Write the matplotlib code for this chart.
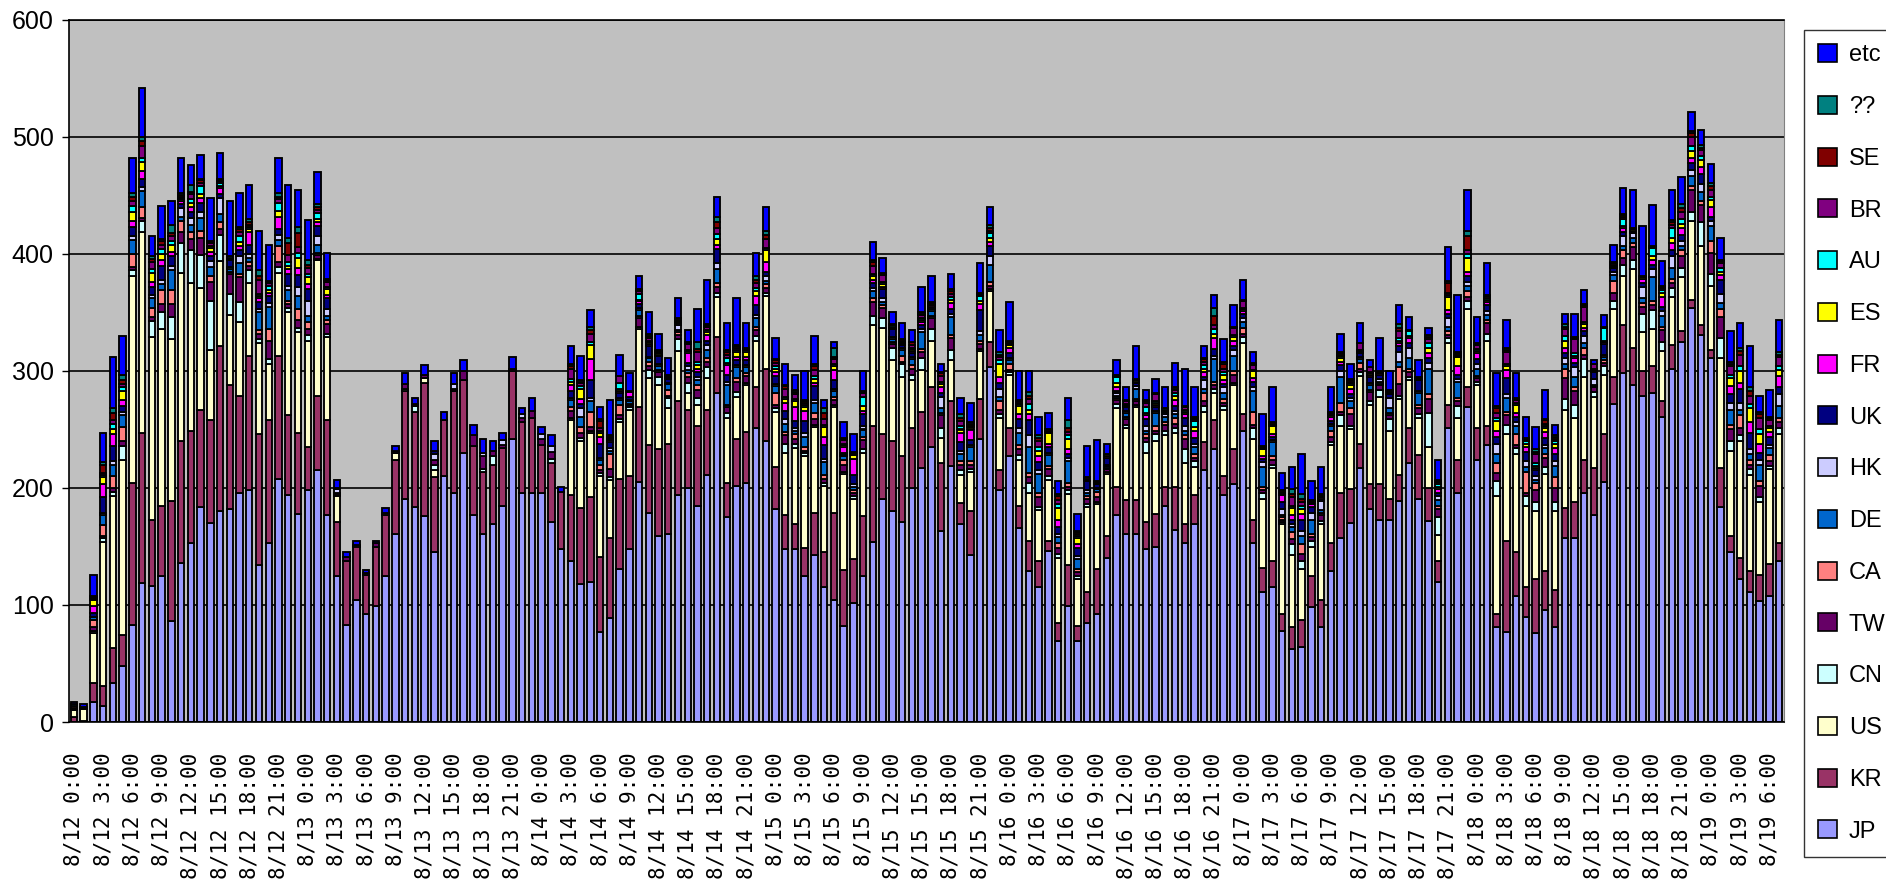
import numpy as np
import matplotlib
matplotlib.use("Agg")
import matplotlib.pyplot as plt

# hourly access counts by country, 8/12 0:00 .. 8/19 7:00 (176 hours)
jp = [0, 0, 17, 14, 33, 48, 83, 119, 116, 125,
      86, 136, 153, 184, 170, 180, 182, 196, 198, 134,
      153, 208, 194, 178, 198, 215, 177, 125, 83, 104,
      92, 99, 125, 161, 191, 184, 176, 145, 210, 196,
      230, 177, 161, 169, 185, 242, 196, 196, 196, 171,
      148, 138, 118, 120, 77, 89, 131, 148, 205, 179,
      159, 161, 194, 200, 185, 211, 281, 175, 202, 204,
      251, 240, 182, 148, 148, 125, 143, 115, 104, 82,
      102, 125, 154, 191, 180, 171, 200, 217, 235, 163,
      219, 169, 143, 242, 303, 198, 227, 166, 129, 115,
      146, 69, 99, 69, 85, 92, 140, 177, 161, 161,
      148, 150, 185, 164, 153, 169, 215, 233, 194, 203,
      249, 153, 111, 115, 78, 62, 64, 98, 81, 129,
      157, 170, 217, 182, 173, 173, 189, 221, 191, 172,
      120, 251, 196, 269, 224, 237, 81, 77, 108, 90,
      76, 96, 81, 157, 157, 196, 177, 205, 272, 298,
      288, 279, 281, 261, 302, 325, 354, 331, 311, 184,
      145, 122, 111, 103, 108, 138]
kr = [4, 1, 16, 17, 30, 26, 121, 128, 57, 60,
      103, 104, 96, 83, 88, 141, 106, 83, 115, 112,
      105, 105, 68, 69, 37, 64, 81, 46, 55, 46,
      34, 51, 52, 63, 92, 81, 114, 64, 48, 87,
      62, 59, 53, 51, 49, 58, 60, 64, 41, 50,
      49, 56, 65, 72, 64, 68, 77, 62, 64, 58,
      74, 77, 80, 67, 68, 56, 48, 29, 40, 44,
      35, 62, 36, 29, 21, 24, 36, 30, 75, 48,
      37, 51, 99, 55, 60, 56, 51, 48, 51, 58,
      55, 18, 37, 34, 22, 17, 24, 19, 26, 23,
      9, 16, 35, 13, 26, 39, 19, 24, 29, 29,
      23, 28, 16, 37, 16, 25, 24, 25, 16, 30,
      14, 20, 21, 23, 14, 19, 23, 27, 23, 24,
      39, 29, 21, 21, 30, 18, 22, 30, 37, 28,
      18, 20, 28, 17, 27, 16, 11, 78, 37, 25,
      46, 33, 32, 26, 31, 28, 40, 41, 23, 41,
      32, 21, 23, 13, 20, 9, 7, 8, 7, 33,
      14, 18, 18, 23, 27, 15]
us = [6, 10, 43, 123, 130, 150, 177, 172, 156, 151,
      138, 144, 126, 104, 60, 73, 60, 63, 62, 78,
      48, 71, 88, 86, 91, 116, 71, 22, 0, 0,
      0, 0, 0, 6, 0, 0, 4, 6, 0, 0,
      0, 0, 0, 0, 0, 0, 0, 0, 0, 0,
      0, 64, 57, 55, 69, 50, 48, 57, 67, 57,
      55, 30, 43, 14, 18, 27, 34, 56, 36, 40,
      40, 62, 47, 53, 65, 78, 73, 57, 90, 82,
      52, 54, 86, 91, 69, 68, 41, 36, 40, 22,
      35, 24, 34, 41, 43, 45, 46, 39, 41, 43,
      52, 55, 61, 40, 73, 55, 53, 67, 61, 79,
      59, 62, 44, 46, 52, 24, 26, 23, 57, 55,
      61, 69, 59, 79, 77, 62, 44, 25, 65, 84,
      57, 51, 58, 68, 75, 58, 65, 41, 32, 35,
      22, 53, 36, 67, 37, 73, 101, 91, 84, 70,
      58, 83, 67, 84, 72, 71, 61, 51, 58, 42,
      67, 33, 32, 43, 41, 46, 67, 68, 55, 94,
      73, 100, 82, 62, 81, 93]
cn = [1, 0, 2, 3, 4, 12, 5, 9, 14, 14,
      19, 25, 28, 28, 42, 22, 18, 17, 11, 3,
      4, 5, 4, 4, 5, 1, 3, 1, 0, 0,
      0, 0, 0, 0, 2, 5, 0, 5, 0, 0,
      0, 0, 2, 7, 0, 0, 0, 0, 0, 4,
      0, 2, 3, 2, 3, 2, 3, 2, 2, 7,
      7, 9, 10, 9, 6, 9, 4, 4, 4, 2,
      4, 3, 3, 8, 4, 3, 2, 2, 2, 2,
      2, 3, 8, 8, 11, 11, 5, 10, 10, 8,
      9, 4, 2, 2, 2, 3, 2, 4, 8, 3,
      3, 4, 3, 3, 2, 2, 2, 4, 3, 2,
      9, 6, 4, 4, 12, 5, 5, 4, 3, 2,
      5, 9, 5, 3, 2, 9, 7, 5, 3, 2,
      9, 3, 3, 3, 6, 10, 3, 3, 3, 29,
      15, 4, 10, 7, 3, 6, 13, 8, 5, 8,
      8, 6, 8, 9, 11, 15, 4, 7, 7, 10,
      8, 16, 16, 8, 8, 8, 8, 20, 10, 17,
      8, 5, 5, 4, 3, 5]
tw = [1, 1, 3, 2, 3, 4, 3, 3, 3, 7,
      11, 10, 10, 15, 16, 5, 17, 21, 4, 5,
      16, 4, 3, 7, 5, 3, 8, 2, 3, 1,
      1, 3, 2, 2, 4, 2, 3, 4, 0, 2,
      8, 9, 11, 5, 3, 2, 4, 6, 5, 6,
      0, 6, 4, 3, 2, 7, 3, 2, 7, 3,
      4, 2, 4, 5, 7, 5, 5, 5, 9, 6,
      5, 4, 3, 7, 4, 2, 5, 4, 4, 6,
      3, 8, 12, 9, 3, 2, 5, 5, 9, 11,
      10, 5, 4, 4, 3, 4, 2, 5, 5, 8,
      6, 5, 3, 3, 5, 4, 2, 3, 5, 3,
      4, 3, 5, 4, 9, 3, 4, 3, 3, 7,
      3, 3, 2, 4, 2, 4, 6, 3, 5, 5,
      3, 10, 3, 8, 4, 3, 10, 4, 5, 12,
      7, 3, 4, 3, 3, 9, 7, 8, 3, 3,
      10, 8, 12, 18, 12, 4, 4, 3, 7, 6,
      11, 6, 4, 10, 4, 10, 19, 15, 18, 18,
      10, 6, 4, 10, 4, 5]
ca = [2, 0, 6, 9, 10, 12, 11, 9, 8, 12,
      12, 9, 6, 6, 5, 6, 2, 3, 3, 3,
      10, 14, 3, 9, 6, 2, 4, 0, 0, 0,
      0, 0, 0, 0, 0, 0, 0, 0, 0, 0,
      0, 0, 0, 0, 0, 0, 0, 0, 0, 0,
      0, 3, 5, 13, 5, 13, 9, 1, 2, 4,
      2, 5, 2, 3, 4, 3, 3, 2, 3, 2,
      3, 3, 10, 3, 4, 3, 5, 3, 3, 4,
      2, 3, 3, 2, 2, 5, 3, 3, 2, 2,
      3, 3, 3, 3, 3, 7, 5, 4, 4, 4,
      3, 4, 3, 3, 2, 5, 1, 2, 2, 2,
      3, 4, 2, 5, 3, 3, 7, 3, 3, 3,
      5, 11, 3, 3, 2, 6, 8, 3, 2, 5,
      8, 5, 5, 2, 1, 2, 14, 3, 3, 4,
      3, 3, 3, 5, 2, 3, 8, 3, 9, 18,
      6, 3, 9, 8, 3, 6, 1, 2, 10, 6,
      3, 3, 4, 3, 4, 5, 3, 3, 10, 7,
      4, 11, 4, 4, 5, 4]
de = [1, 0, 3, 9, 10, 10, 12, 14, 8, 5,
      17, 4, 6, 11, 8, 7, 2, 9, 4, 15,
      19, 5, 9, 11, 5, 7, 3, 0, 0, 0,
      0, 0, 0, 0, 0, 0, 0, 0, 0, 0,
      0, 0, 0, 0, 0, 0, 0, 0, 0, 0,
      0, 6, 9, 9, 4, 3, 4, 2, 5, 3,
      3, 5, 2, 3, 4, 7, 12, 17, 9, 5,
      7, 3, 6, 7, 3, 9, 9, 11, 5, 3,
      3, 6, 6, 3, 2, 5, 5, 14, 4, 4,
      15, 6, 12, 5, 15, 4, 3, 10, 22, 16,
      9, 5, 19, 8, 3, 2, 2, 2, 3, 9,
      3, 11, 5, 3, 4, 6, 4, 19, 5, 13,
      5, 18, 17, 12, 2, 5, 7, 12, 2, 4,
      22, 6, 3, 4, 2, 4, 5, 9, 10, 22,
      5, 4, 14, 5, 6, 4, 8, 12, 7, 4,
      3, 5, 10, 4, 9, 4, 1, 3, 5, 4,
      5, 4, 20, 9, 9, 4, 9, 8, 13, 5,
      13, 5, 5, 14, 6, 10]
hk = [0, 0, 0, 2, 3, 3, 3, 3, 3, 4,
      4, 7, 6, 5, 5, 14, 2, 6, 3, 3,
      3, 4, 4, 8, 13, 7, 6, 3, 0, 0,
      0, 0, 0, 0, 0, 0, 0, 5, 0, 4,
      0, 0, 3, 0, 4, 0, 3, 0, 4, 5,
      0, 2, 7, 3, 2, 2, 2, 1, 2, 1,
      2, 1, 4, 3, 3, 4, 5, 3, 2, 2,
      3, 4, 2, 4, 2, 3, 2, 3, 2, 1,
      2, 3, 3, 3, 2, 2, 2, 3, 2, 10,
      3, 3, 2, 3, 7, 7, 2, 4, 10, 3,
      2, 3, 3, 3, 2, 1, 1, 2, 2, 2,
      4, 2, 2, 3, 4, 3, 7, 3, 5, 5,
      3, 3, 4, 2, 5, 2, 4, 6, 8, 2,
      5, 3, 2, 2, 2, 9, 8, 9, 2, 5,
      3, 7, 2, 3, 4, 3, 9, 3, 3, 5,
      3, 3, 4, 5, 8, 6, 5, 2, 3, 8,
      4, 10, 7, 4, 10, 4, 5, 7, 4, 8,
      6, 6, 4, 4, 3, 10]
uk = [0, 1, 3, 13, 13, 5, 8, 7, 7, 12,
      8, 4, 5, 8, 4, 3, 6, 5, 8, 6,
      6, 5, 10, 10, 10, 9, 9, 1, 0, 0,
      0, 0, 0, 0, 0, 0, 0, 3, 0, 0,
      0, 0, 0, 0, 0, 0, 0, 0, 0, 0,
      0, 6, 4, 15, 12, 5, 4, 3, 3, 9,
      7, 3, 2, 3, 4, 4, 12, 6, 4, 4,
      8, 4, 7, 7, 6, 10, 12, 12, 7, 2,
      8, 10, 4, 8, 7, 2, 3, 3, 2, 3,
      4, 7, 4, 18, 9, 5, 4, 8, 13, 7,
      5, 6, 3, 7, 8, 3, 6, 2, 3, 3,
      6, 3, 2, 4, 7, 5, 3, 6, 3, 3,
      4, 5, 3, 3, 6, 4, 10, 5, 2, 2,
      5, 3, 3, 5, 4, 3, 5, 4, 9, 4,
      3, 4, 4, 5, 4, 5, 6, 14, 5, 8,
      5, 6, 6, 4, 4, 4, 6, 9, 3, 4,
      1, 3, 4, 4, 5, 5, 6, 8, 4, 12,
      7, 12, 14, 6, 7, 6]
fr = [0, 0, 6, 11, 10, 5, 5, 7, 4, 5,
      4, 2, 4, 4, 4, 5, 1, 4, 11, 3,
      3, 11, 4, 6, 4, 3, 3, 0, 0, 0,
      0, 0, 0, 0, 0, 0, 0, 0, 0, 0,
      0, 0, 0, 0, 0, 0, 0, 0, 0, 0,
      0, 5, 4, 18, 6, 2, 2, 4, 3, 2,
      1, 1, 1, 8, 3, 5, 4, 8, 3, 3,
      8, 8, 3, 7, 12, 9, 3, 7, 9, 5,
      14, 3, 3, 2, 1, 1, 2, 3, 1, 5,
      5, 8, 9, 5, 3, 5, 5, 4, 5, 5,
      3, 6, 4, 3, 1, 1, 1, 3, 1, 1,
      3, 2, 1, 5, 3, 6, 4, 9, 3, 5,
      2, 3, 2, 2, 6, 4, 5, 2, 1, 4,
      3, 5, 1, 2, 1, 1, 3, 4, 1, 4,
      3, 3, 7, 4, 5, 3, 5, 7, 3, 4,
      2, 5, 5, 5, 4, 3, 1, 2, 1, 3,
      1, 4, 4, 8, 6, 6, 4, 6, 8, 4,
      7, 5, 9, 8, 4, 10]
es = [0, 0, 5, 6, 4, 8, 8, 8, 8, 5,
      6, 2, 4, 3, 3, 2, 1, 3, 2, 2,
      2, 5, 3, 9, 6, 3, 5, 0, 0, 0,
      0, 0, 0, 0, 0, 0, 0, 0, 0, 0,
      0, 0, 0, 0, 0, 0, 0, 0, 0, 0,
      0, 3, 9, 12, 3, 1, 2, 0, 1, 2,
      1, 1, 1, 2, 3, 2, 5, 2, 4, 4,
      4, 10, 3, 3, 5, 3, 3, 8, 3, 2,
      3, 4, 3, 2, 1, 1, 2, 2, 1, 3,
      3, 3, 2, 3, 4, 11, 2, 7, 4, 5,
      9, 10, 9, 5, 1, 1, 2, 4, 1, 1,
      2, 2, 1, 4, 2, 3, 3, 4, 5, 3,
      2, 6, 6, 7, 1, 6, 4, 1, 1, 1,
      3, 3, 1, 1, 1, 1, 2, 2, 1, 5,
      2, 11, 8, 12, 2, 2, 8, 3, 7, 3,
      2, 3, 4, 6, 2, 3, 1, 1, 1, 2,
      1, 1, 3, 4, 5, 4, 6, 6, 6, 3,
      7, 10, 12, 8, 3, 5]
au = [0, 0, 1, 2, 5, 3, 5, 3, 3, 4,
      3, 1, 3, 7, 2, 3, 1, 5, 2, 2,
      4, 7, 3, 4, 3, 5, 2, 0, 0, 0,
      0, 0, 0, 0, 0, 0, 0, 0, 0, 0,
      0, 0, 0, 0, 0, 0, 0, 0, 0, 0,
      0, 2, 2, 3, 2, 1, 5, 0, 5, 1,
      1, 1, 1, 1, 3, 2, 4, 4, 2, 2,
      3, 2, 2, 2, 2, 2, 3, 2, 2, 1,
      1, 8, 2, 2, 1, 1, 1, 1, 1, 2,
      2, 3, 1, 4, 4, 3, 1, 2, 5, 3,
      1, 3, 3, 2, 0, 0, 0, 5, 1, 0,
      5, 1, 1, 2, 2, 5, 3, 4, 2, 2,
      1, 1, 1, 1, 1, 2, 3, 1, 1, 1,
      2, 2, 1, 1, 1, 1, 2, 4, 1, 4,
      2, 2, 1, 3, 2, 1, 3, 2, 2, 2,
      2, 2, 2, 4, 2, 2, 1, 11, 1, 6,
      1, 1, 7, 2, 8, 4, 4, 4, 3, 3,
      3, 4, 4, 4, 2, 3]
br = [0, 0, 1, 2, 3, 3, 4, 10, 6, 4,
      4, 1, 4, 3, 2, 1, 0, 4, 2, 12,
      2, 3, 6, 5, 5, 3, 4, 0, 0, 0,
      0, 0, 0, 0, 0, 0, 0, 0, 0, 0,
      0, 0, 0, 0, 0, 0, 0, 0, 0, 0,
      0, 9, 3, 7, 2, 1, 6, 1, 2, 2,
      1, 1, 1, 5, 8, 3, 5, 3, 2, 1,
      4, 8, 3, 7, 4, 2, 5, 5, 4, 3,
      1, 3, 7, 6, 1, 1, 2, 3, 1, 5,
      3, 4, 1, 1, 2, 3, 1, 1, 4, 5,
      1, 4, 3, 2, 1, 1, 0, 1, 2, 1,
      4, 6, 0, 3, 2, 2, 3, 3, 3, 6,
      6, 4, 1, 1, 1, 7, 3, 1, 1, 1,
      1, 1, 6, 4, 0, 1, 6, 1, 0, 3,
      2, 2, 1, 3, 3, 2, 4, 10, 2, 1,
      8, 2, 2, 6, 12, 13, 4, 1, 1, 2,
      0, 0, 1, 2, 3, 6, 8, 5, 6, 4,
      7, 10, 7, 10, 5, 8]
se = [0, 0, 1, 7, 6, 3, 4, 5, 3, 3,
      3, 1, 2, 2, 1, 1, 0, 2, 2, 3,
      1, 2, 10, 12, 3, 2, 2, 0, 0, 0,
      0, 0, 0, 0, 0, 0, 0, 0, 0, 0,
      0, 0, 0, 0, 0, 0, 0, 0, 0, 0,
      0, 2, 1, 3, 6, 1, 0, 0, 1, 2,
      1, 0, 0, 1, 3, 1, 5, 2, 1, 1,
      3, 3, 2, 2, 2, 1, 3, 5, 2, 1,
      1, 1, 3, 1, 0, 1, 3, 1, 0, 2,
      2, 3, 1, 1, 2, 2, 1, 1, 3, 3,
      1, 3, 3, 1, 0, 0, 0, 1, 1, 0,
      1, 1, 0, 1, 1, 1, 2, 8, 4, 1,
      1, 1, 1, 1, 1, 3, 3, 1, 0, 1,
      1, 1, 0, 0, 0, 0, 3, 0, 0, 2,
      1, 8, 1, 12, 1, 1, 4, 2, 1, 1,
      2, 3, 2, 2, 1, 1, 0, 0, 1, 1,
      0, 0, 1, 1, 2, 3, 3, 2, 3, 2,
      2, 3, 4, 3, 2, 2]
unknown = [0, 0, 1, 2, 4, 5, 3, 3, 2, 2,
           7, 2, 6, 1, 1, 1, 0, 2, 3, 5,
           1, 3, 5, 5, 4, 3, 1, 0, 0, 0,
           0, 0, 0, 0, 0, 0, 0, 0, 0, 0,
           0, 0, 0, 0, 0, 0, 0, 0, 0, 0,
           0, 2, 1, 3, 2, 0, 0, 0, 1, 2,
           0, 0, 0, 1, 6, 1, 5, 2, 1, 0,
           3, 4, 1, 1, 2, 1, 2, 4, 8, 1,
           0, 1, 2, 1, 0, 0, 0, 1, 0, 1,
           2, 3, 1, 1, 3, 2, 1, 1, 3, 2,
           0, 2, 7, 1, 0, 0, 0, 0, 0, 0,
           1, 0, 0, 1, 0, 1, 1, 7, 2, 0,
           0, 1, 0, 0, 0, 4, 4, 0, 0, 0,
           1, 1, 0, 0, 0, 0, 3, 0, 0, 2,
           1, 2, 1, 5, 1, 0, 2, 2, 1, 1,
           2, 1, 1, 2, 1, 1, 0, 0, 0, 1,
           0, 0, 0, 1, 2, 4, 2, 2, 3, 1,
           2, 3, 3, 2, 1, 2]
etc = [2, 2, 18, 25, 44, 33, 30, 42, 17, 28,
       20, 30, 17, 21, 37, 22, 47, 29, 29, 34,
       31, 30, 45, 32, 34, 27, 22, 7, 4, 4,
       3, 2, 4, 4, 9, 5, 8, 8, 7, 9,
       9, 9, 12, 8, 6, 10, 5, 11, 6, 9,
       4, 15, 21, 14, 10, 30, 18, 15, 11, 18,
       14, 14, 17, 10, 28, 38, 17, 23, 40, 21,
       20, 20, 18, 18, 13, 25, 24, 7, 5, 13,
       15, 17, 15, 13, 10, 14, 10, 22, 22, 7,
       13, 14, 17, 25, 15, 19, 33, 25, 18, 16,
       14, 11, 19, 15, 27, 35, 9, 12, 11, 28,
       9, 12, 18, 21, 32, 25, 10, 11, 19, 18,
       17, 9, 27, 30, 15, 19, 34, 16, 23, 21,
       16, 13, 17, 6, 28, 16, 16, 11, 14, 6,
       17, 29, 49, 35, 22, 27, 28, 24, 21, 18,
       19, 25, 9, 9, 20, 12, 3, 10, 15, 22,
       33, 43, 35, 21, 26, 23, 16, 13, 16, 19,
       26, 21, 35, 14, 23, 28]

countries = ["JP", "KR", "US", "CN", "TW", "CA", "DE", "HK",
             "UK", "FR", "ES", "AU", "BR", "SE", "??", "etc"]
colors = ["#9999FF", "#993366", "#FFFFCC", "#CCFFFF", "#660066", "#FF8080",
          "#0066CC", "#CCCCFF", "#000080", "#FF00FF", "#FFFF00", "#00FFFF",
          "#800080", "#800000", "#008080", "#0000FF"]
series = [jp, kr, us, cn, tw, ca, de, hk, uk, fr, es, au, br, se, unknown, etc]

n = len(jp)
x = np.arange(n)
ticklabels = [f"8/{12 + i // 24} {i % 24}:00" for i in range(0, n, 3)]

W, H = 1886, 889
fig = plt.figure(figsize=(W / 100, H / 100), dpi=100)
ax = fig.add_axes([69 / W, 1 - 722 / H, (1784 - 69) / W, (722 - 20) / H])
ax.set_facecolor("#C0C0C0")

bottom = np.zeros(n)
handles = []
for name, vals, col in zip(countries, series, colors):
    v = np.array(vals, dtype=float)
    m = v > 0
    ax.bar(x[m], v[m], 0.66, bottom=bottom[m], color=col,
           edgecolor="black", linewidth=1.35, zorder=2)
    handles.append(plt.Rectangle((0, 0), 1, 1, facecolor=col,
                                 edgecolor="black", linewidth=1.2))
    bottom += v

ax.set_xlim(-0.5, n - 0.5)
ax.set_ylim(0, 600)
ax.set_yticks(range(0, 601, 100))
ax.yaxis.grid(True, color="black", linewidth=1.2, zorder=1)
ax.set_axisbelow(True)
ax.tick_params(axis="y", labelsize=18, length=5, width=1, pad=6)
for t in ax.get_yticklabels():
    t.set_family("Liberation Sans")

ax.set_xticks(range(0, n, 3))
ax.set_xticklabels(ticklabels, rotation=90, family="DejaVu Sans Mono",
                   fontsize=15, va="top", ha="center")
ax.tick_params(axis="x", length=0, pad=22)

for s in ["left", "bottom", "top"]:
    ax.spines[s].set_color("black")
    ax.spines[s].set_linewidth(1.2)
ax.spines["right"].set_color("#808080")

leg = fig.legend(handles[::-1], countries[::-1], loc="upper left",
                 bbox_to_anchor=(1804 / W, 1 - 30 / H),
                 prop={"family": "Liberation Sans", "size": 17},
                 frameon=True, fancybox=False, edgecolor="black",
                 labelspacing=1.25, handlelength=0.8, handleheight=0.8,
                 handletextpad=0.5, borderpad=0.6, borderaxespad=0)
leg.get_frame().set_linewidth(1.0)

fig.savefig("out.png", dpi=100, facecolor="white")
